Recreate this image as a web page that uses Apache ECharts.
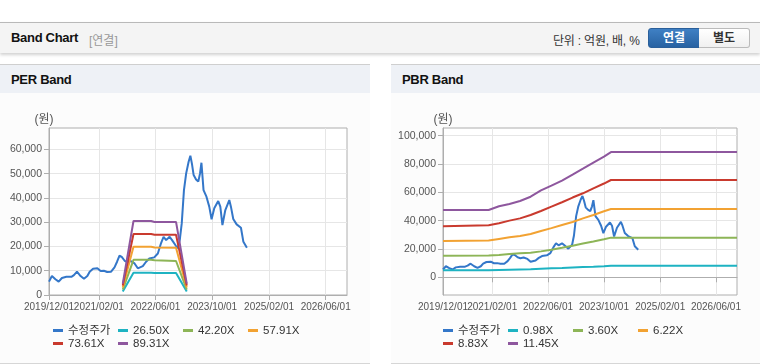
<!DOCTYPE html>
<html>
<head>
<meta charset="utf-8">
<script src="https://cdn.jsdelivr.net/npm/echarts@6/dist/echarts.min.js"></script>
<style>
  body { margin: 0; width: 760px; height: 364px; background: #fff; position: relative; overflow: hidden;
         font-family: 'Liberation Sans', 'Noto Sans CJK KR', sans-serif; }
  .topbar { position: absolute; left: 0; top: 22px; width: 760px; height: 30px; background: #f4f4f4;
            border-top: 1px solid #b9b9b9; box-shadow: 0 2px 3px rgba(0,0,0,0.18); }
  .topbar .title { position: absolute; left: 11px; top: 7px; font-size: 13px; font-weight: bold; color: #111; letter-spacing: -0.3px; }
  .topbar .sub { position: absolute; left: 89px; top: 8px; font-size: 12px; color: #999; }
  .topbar .unit { position: absolute; left: 553px; top: 8px; font-size: 12px; color: #333; letter-spacing: -0.2px; }
  .btn { position: absolute; top: 5px; height: 18px; width: 50px; font-size: 12px; font-weight: bold;
         text-align: center; line-height: 18px; box-sizing: content-box; }
  .btn.on { left: 648px; background: linear-gradient(#3f80c4, #2862a2); color: #fff; border: 1px solid #2a5f9a; border-radius: 3px 0 0 3px; }
  .btn.off { left: 699px; background: linear-gradient(#ffffff, #f0f0f0); color: #333; border: 1px solid #bbb; border-left: none; border-radius: 0 3px 3px 0; }
  .panel { position: absolute; top: 64px; height: 298px; background: #fcfcfc; border-top: 1px solid #cfcfcf; border-bottom: 1px solid #d6d6d6; }
  .panel .head { height: 28px; background: #eef1f6; font-size: 13px; font-weight: bold; color: #111; line-height: 30px; padding-left: 11px; letter-spacing: -0.3px; }
  .chart { position: absolute; top: 29px; left: 0; height: 268px; }
</style>
</head>
<body>
<div class="topbar">
  <span class="title">Band Chart</span>
  <span class="sub">[연결]</span>
  <span class="unit">단위 : 억원, 배, %</span>
  <div class="btn on">연결</div>
  <div class="btn off">별도</div>
</div>
<div class="panel" style="left:0;width:370px;">
  <div class="head">PER Band</div>
  <div id="per" class="chart" style="width:370px;"></div>
</div>
<div class="panel" style="left:391px;width:369px;">
  <div class="head">PBR Band</div>
  <div id="pbr" class="chart" style="width:369px;"></div>
</div>
<script>
// adjusted price (수정주가)
const priceDates = ['2019/12/01','2019/12/26','2020/01/25','2020/02/22','2020/03/21','2020/04/28','2020/06/10','2020/07/02',
  '2020/07/28','2020/08/28','2020/09/26','2020/10/25','2020/11/14','2020/12/13','2021/01/19','2021/02/16','2021/03/16',
  '2021/04/13','2021/05/17','2021/06/15','2021/07/07','2021/07/28','2021/08/16','2021/09/10','2021/10/04','2021/11/01',
  '2021/12/04','2022/01/01','2022/02/13','2022/03/13','2022/04/10','2022/05/22','2022/06/22','2022/07/19','2022/08/10',
  '2022/09/01','2022/10/01','2022/10/22','2022/11/25','2022/12/10','2022/12/28','2023/01/13','2023/02/01','2023/02/20',
  '2023/03/13','2023/03/28','2023/04/10','2023/04/25','2023/05/16','2023/06/04','2023/06/19','2023/07/01','2023/07/19',
  '2023/08/13','2023/09/06','2023/09/26','2023/10/19','2023/11/22','2023/12/10','2023/12/28','2024/01/22','2024/02/25',
  '2024/03/10','2024/03/30','2024/04/28','2024/06/04','2024/06/25','2024/07/25'];
const priceValues = [5500, 7800, 6500, 5500, 7000, 7500, 7500, 8200,
  9600, 7800, 6700, 7800, 9600, 10800, 11000, 9900, 10000,
  9500, 9600, 11400, 13700, 16200, 15700, 14100, 13500, 14000,
  13000, 11000, 11900, 13700, 15000, 15500, 17100, 21300, 24000,
  22600, 24000, 22600, 20200, 19200, 23000, 29500, 43200, 50100,
  54900, 57400, 54200, 49400, 47600, 46700, 50100, 54500, 43200,
  40500, 36400, 31200, 35700, 38700, 36400, 28800, 35000, 39100,
  36400, 31300, 29100, 27700, 21900, 19500];

// PER band
const perNames = ['26.50X', '42.20X', '57.91X', '73.61X', '89.31X'];
const perDates = ['2021/08/25', '2021/11/25', '2022/04/25', '2022/05/25', '2022/11/25', '2023/02/25'];
const per2650 = [1400, 9200, 9200, 9100, 9100, 1400];
const per4220 = [2200, 14500, 14500, 14300, 14000, 2200];
const per5791 = [3050, 19900, 19900, 19600, 19500, 3050];
const per7361 = [3900, 25100, 25100, 24800, 24800, 3900];
const per8931 = [4700, 30500, 30500, 30100, 30100, 4700];

// PBR band
const pbrNames = ['0.98X', '3.60X', '6.22X', '8.83X', '11.45X'];
const pbrDates = ['2019/12/01', '2021/01/01', '2021/04/01', '2021/07/01', '2021/10/01', '2022/01/01', '2022/04/01',
  '2022/07/01', '2022/10/01', '2023/01/01', '2023/04/01', '2023/07/01', '2023/10/01', '2023/12/01', '2026/12/01'];
const pbr098 = [4900, 4900, 5100, 5300, 5500, 5700, 6000, 6300, 6600, 7000, 7300, 7500, 7800, 8100, 8100];
const pbr360 = [15200, 15300, 15800, 16400, 16900, 17400, 18300, 19400, 20800, 22300, 23900, 25300, 26800, 28000, 28000];
const pbr622 = [25700, 25900, 27100, 28200, 29200, 30600, 32700, 34700, 36900, 39000, 41600, 44000, 46600, 48200, 48200];
const pbr883 = [36100, 36800, 38100, 40000, 41600, 44000, 46800, 49900, 53000, 56300, 59300, 62800, 66200, 68700, 68700];
const pbr1145 = [47500, 47500, 50200, 51800, 53900, 56900, 61300, 64700, 68300, 72500, 76700, 81000, 85200, 88400, 88400];

const xTickDates = ['2019/12/01', '2021/02/01', '2022/06/01', '2023/10/01', '2025/02/01', '2026/06/01'];
const perYTicks = [0, 10000, 20000, 30000, 40000, 50000, 60000];
const pbrYTicks = [0, 20000, 40000, 60000, 80000, 100000];

const colors = ['#3477c9', '#1eb3c2', '#8db557', '#f2a232', '#c93a2e', '#8e579e'];
const font = "'Liberation Sans', 'Noto Sans CJK KR', sans-serif";
const xMin = ts('2019/12/01'), xMax = ts('2026/12/01');

function ts(s) {
  const p = s.split('/').map(Number);
  return Date.UTC(p[0], p[1] - 1, p[2]);
}
function fmt(v) {
  const d = new Date(v);
  const mm = String(d.getUTCMonth() + 1).padStart(2, '0');
  const dd = String(d.getUTCDate()).padStart(2, '0');
  return d.getUTCFullYear() + '/' + mm + '/' + dd;
}
function pairs(dates, vals) {
  return dates.map((d, i) => [ts(d), vals[i]]);
}

function build(opt) {
  const lineSeries = (name, data, color) => ({
    name, type: 'line', data, showSymbol: false, symbol: 'none',
    lineStyle: { width: 2, color }, itemStyle: { color }, z: 2
  });
  const series = [lineSeries('수정주가', pairs(priceDates, priceValues), colors[0])];
  opt.bands.forEach((b, i) => series.push(lineSeries(opt.names[i], pairs(opt.dates, b), colors[i + 1])));
  const xLabel = { formatter: fmt, fontSize: 10, color: '#555', margin: 7, fontFamily: font };
  return {
    animation: false,
    textStyle: { fontFamily: font },
    grid: {
      left: opt.left, top: 34, width: opt.width, height: 167, show: true,
      borderColor: '#aeaeae', borderWidth: 1, backgroundColor: '#fff'
    },
    legend: {
      left: opt.legendLeft, top: 230, width: 262, itemGap: 0, padding: 0,
      icon: 'rect', itemWidth: 10, itemHeight: 3,
      textStyle: { fontSize: 11.5, color: '#333', width: 50, lineHeight: 13, fontFamily: font },
      data: ['수정주가'].concat(opt.names)
    },
    xAxis: [{
      type: 'value', min: xMin, max: xMax,
      axisLine: { show: true, lineStyle: { color: '#aeaeae', width: 1 } },
      axisTick: { show: true, length: 5, lineStyle: { color: '#aeaeae' }, customValues: xTickDates.map(ts) },
      axisLabel: Object.assign({ customValues: xTickDates.slice(1).map(ts) }, xLabel),
      splitLine: { show: true, lineStyle: { color: '#e6e6e6', width: 1 } }
    }, {
      // first date label on its own axis so the min-label overlap rule does not drop it
      type: 'value', min: xMin, max: xMax, position: 'bottom',
      axisLine: { show: false }, axisTick: { show: false }, splitLine: { show: false },
      axisLabel: Object.assign({ customValues: [ts(xTickDates[0])] }, xLabel)
    }],
    yAxis: {
      type: 'value', min: opt.ymin, max: opt.ymax,
      name: '(원)', nameLocation: 'end', nameGap: 2,
      nameTextStyle: { fontSize: 12, color: '#555', align: 'center', padding: opt.namePad, fontFamily: font },
      axisLine: { show: true, lineStyle: { color: '#aeaeae', width: 1 } },
      axisTick: { show: true, length: 5, lineStyle: { color: '#aeaeae' }, customValues: opt.yticks },
      axisLabel: {
        customValues: opt.yticks, fontSize: 10.5, color: '#555', margin: 7, fontFamily: font,
        formatter: v => v.toLocaleString('en-US')
      },
      splitLine: { show: true, lineStyle: { color: '#e6e6e6', width: 1 } }
    },
    series
  };
}

const perChart = echarts.init(document.getElementById('per'));
perChart.setOption(build({
  left: 49, width: 298, ymin: 0, ymax: 68800, yticks: perYTicks, namePad: [0, 10, 0, 0], legendLeft: 53,
  names: perNames, dates: perDates, bands: [per2650, per4220, per5791, per7361, per8931]
}));

const pbrChart = echarts.init(document.getElementById('pbr'));
pbrChart.setOption(build({
  left: 52, width: 294, ymin: -12500, ymax: 105400, yticks: pbrYTicks, namePad: [0, 0, 0, 0], legendLeft: 52,
  names: pbrNames, dates: pbrDates, bands: [pbr098, pbr360, pbr622, pbr883, pbr1145]
}));
</script>
</body>
</html>
